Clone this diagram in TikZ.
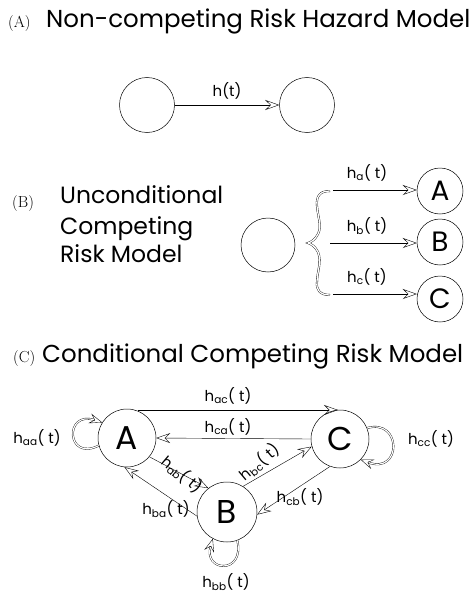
\documentclass[tikz,border=0pt]{standalone}
\usepackage{fontspec}
\newfontfamily\geo{Poppins}
\usetikzlibrary{arrows.meta}
\tikzset{
  st/.style={circle,draw,line width=0.5pt,inner sep=0pt},
  arr/.style={line width=0.4pt,-{Stealth[open,length=14pt,width=10pt,inset=5pt]}},
  loopst/.style={double,double distance=1.2pt,line width=0.35pt,-{Stealth[open,length=13pt,width=10pt,inset=5pt]}},
  bracest/.style={double,double distance=1.3pt,line width=0.35pt},
  lab/.style={font=\geo\fontsize{15}{17}\selectfont,inner sep=1pt},
  ttl/.style={font=\geo\fontsize{24.5}{28}\selectfont,anchor=base west,inner sep=0pt},
  sub/.style={font=\geo\fontsize{23.5}{28}\selectfont,anchor=base west,inner sep=0pt},
  ser/.style={font=\rmfamily\fontsize{16}{18}\selectfont,anchor=base west,inner sep=0pt},
  bigB/.style={font=\geo\fontsize{28}{30}\selectfont},
  bigC/.style={font=\geo\fontsize{33}{36}\selectfont}
}
\begin{document}
\begin{tikzpicture}[x=1pt,y=-1pt]
\useasboundingbox (0,0) rectangle (475,594);
% (A)
\node[ser] (ta) at (8,28) {(A)};
\node[ttl] (tA) at (46,28) {Non-competing Risk Hazard Model};
\node[st,minimum size=55pt] (a1) at (147,105) {};
\node[st,minimum size=55pt] (a2) at (307,105) {};
\draw[arr] (a1) -- node[lab,above=5pt] (lh) {h(t)} (a2);
% (B)
\node[ser] (tb) at (12,207) {(B)};
\node[sub] (tB1) at (60,203) {Unconditional};
\node[sub] (tB2) at (60,234) {Competing};
\node[sub] (tB3) at (60,262) {Risk Model};
\node[st,minimum size=54pt] (b0) at (268,245) {};
\draw[bracest] (330,191) .. controls (320,191) and (316,196) .. (317,206)
  .. controls (318,218) and (322,226) .. (318,234)
  .. controls (315,240) and (311,242) .. (308,243)
  .. controls (311,244) and (315,246) .. (318,252)
  .. controls (322,262) and (317,272) .. (317,282)
  .. controls (316,290) and (320,295) .. (330,295);
\coordinate (sa) at (333,190);
\coordinate (sb) at (330,243);
\coordinate (sc) at (333,294);
\node[st,minimum size=46pt,bigB] (bA) at (440,191) {A};
\node[st,minimum size=46pt,bigB] (bB) at (440,242) {B};
\node[st,minimum size=46pt,bigB] (bC) at (440,299) {C};
\draw[arr] (sa) -- (bA.west |- sa);
\draw[arr] (sb) -- (bB.west |- sb);
\draw[arr] (sc) -- (bC.west |- sc);
\node[lab] (la) at (367,173) {h\textsubscript{a}( t)};
\node[lab] (lb) at (367,226) {h\textsubscript{b}( t)};
\node[lab] (lc) at (367,277) {h\textsubscript{c}( t)};
% (C)
\node[ser] (tc) at (13,362) {(C)};
\node[ttl] (tC) at (42,362) {Conditional Competing Risk Model};
\node[st,minimum size=58pt,bigC] (A) at (127,438) {A};
\node[st,minimum size=58pt,bigC] (C) at (340,439) {C};
\node[st,minimum size=60pt,bigC] (B) at (227,512) {B};
\coordinate (ac1) at (138,410);
\coordinate (ac2) at (338,410);
\draw[arr] (ac1) -- (ac2);
\node[lab] (lac) at (228,396) {h\textsubscript{ac}( t)};
\draw[arr] (C.180) -- (A.0);
\node[lab] (lca) at (228,427) {h\textsubscript{ca}( t)};
\draw[arr] (A.-40) -- (B.128);
\node[lab,rotate=-40] (lab_) at (182,474) {h\textsubscript{ab}( t)};
\draw[arr] (B.58) -- (C.195);
\node[lab,rotate=40] (lbc) at (259,462) {h\textsubscript{bc}( t)};
\draw[arr] (B.188) -- (A.-95);
\node[lab] (lba) at (166,509) {h\textsubscript{ba}( t)};
\draw[arr] (C.-110) -- (B.-5);
\node[lab] (lcb) at (300,497) {h\textsubscript{cb}( t)};
% loops
\draw[loopst] (A.195) .. controls (66,462) and (64,410) .. (A.148);
\node[lab] (laa) at (37,438) {h\textsubscript{aa}( t)};
\draw[loopst] (C.22) .. controls (402,418) and (402,475) .. (C.-45);
\node[lab] (lcc) at (431,439) {h\textsubscript{cc}( t)};
\draw[loopst] (B.-70) .. controls (245,575) and (203,572) .. (B.-118);
\node[lab] (lbb) at (226,582) {h\textsubscript{bb}( t)};
\end{tikzpicture}
\end{document}
